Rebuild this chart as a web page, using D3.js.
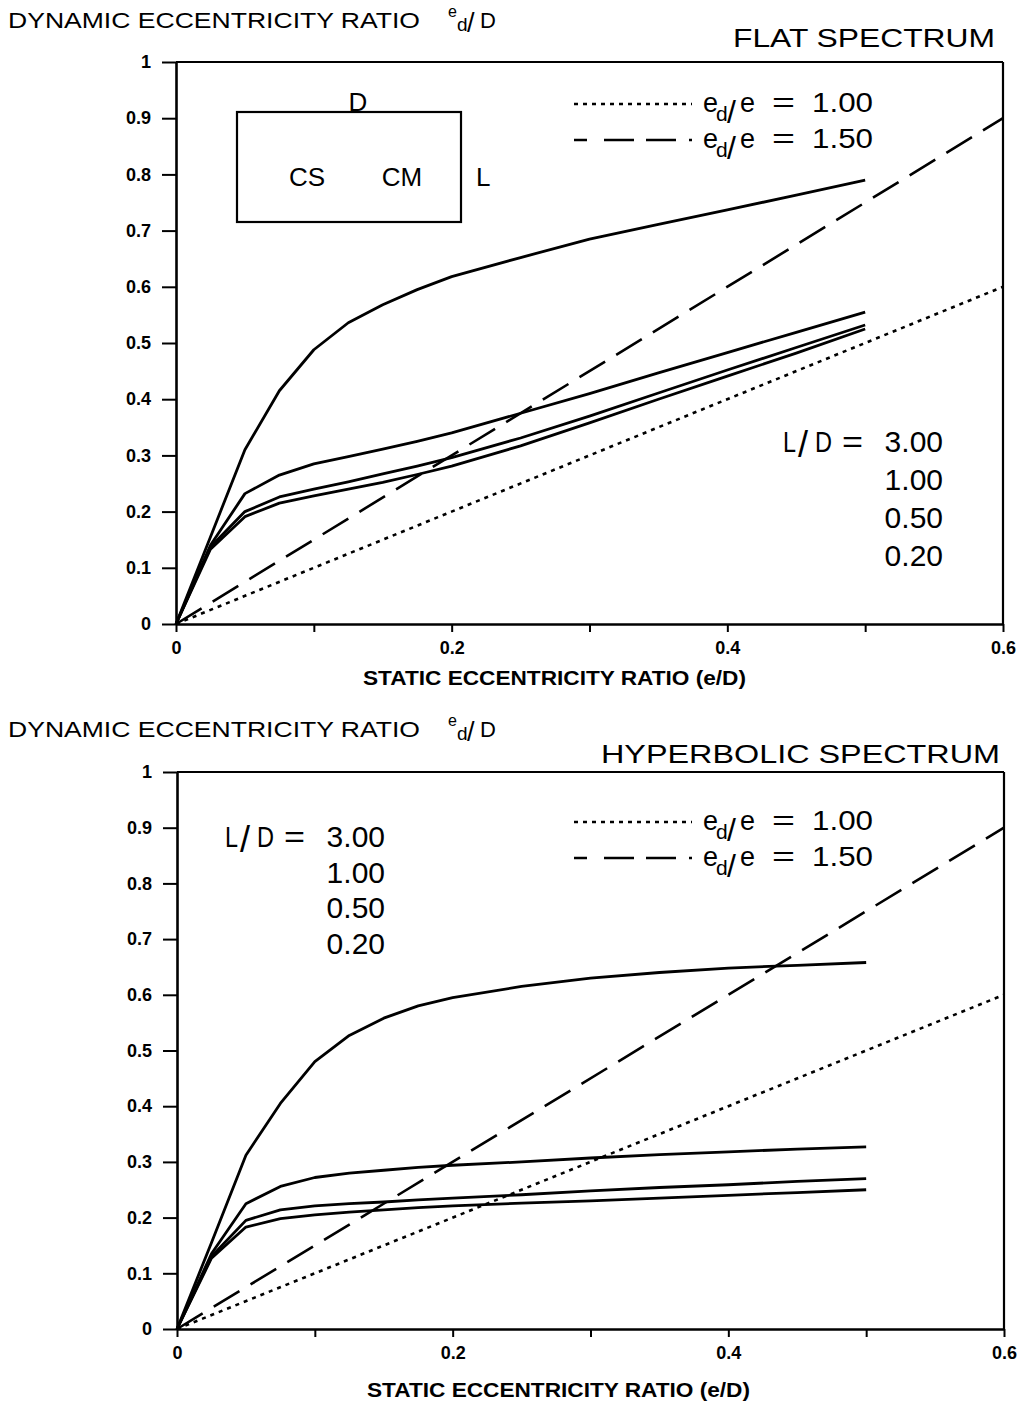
<!DOCTYPE html>
<html>
<head>
<meta charset="utf-8">
<script src="https://cdn.jsdelivr.net/npm/d3@7"></script>
<style>
  body { margin: 0; background: #fff; }
  svg { display: block; }
  text { font-family: "Liberation Sans", Arial, sans-serif; fill: #000; }
</style>
</head>
<body>
<script>
// Static eccentricity ratio e/D at which the response curves were computed
const staticEcc = [0, 0.025, 0.05, 0.075, 0.1, 0.125, 0.15, 0.175, 0.2, 0.25, 0.3, 0.35, 0.4, 0.45, 0.5];

// Flat spectrum: dynamic eccentricity ratio e_d/D for each L/D
const flatLD300 = [0, 0.155, 0.31, 0.415, 0.488, 0.536, 0.568, 0.595, 0.618, 0.652, 0.685, 0.711, 0.737, 0.763, 0.79];
const flatLD100 = [0, 0.14, 0.232, 0.265, 0.285, 0.298, 0.311, 0.325, 0.34, 0.375, 0.41, 0.447, 0.483, 0.519, 0.555];
const flatLD050 = [0, 0.137, 0.20, 0.226, 0.24, 0.253, 0.267, 0.281, 0.296, 0.331, 0.37, 0.411, 0.452, 0.492, 0.532];
const flatLD020 = [0, 0.133, 0.191, 0.215, 0.228, 0.24, 0.252, 0.266, 0.281, 0.317, 0.358, 0.40, 0.441, 0.482, 0.525];

// Hyperbolic spectrum: dynamic eccentricity ratio e_d/D for each L/D
const hypLD300 = [0, 0.155, 0.312, 0.405, 0.48, 0.527, 0.558, 0.58, 0.595, 0.615, 0.63, 0.64, 0.648, 0.653, 0.658];
const hypLD100 = [0, 0.135, 0.225, 0.256, 0.272, 0.28, 0.285, 0.29, 0.294, 0.30, 0.307, 0.313, 0.318, 0.323, 0.327];
const hypLD050 = [0, 0.13, 0.195, 0.214, 0.221, 0.225, 0.228, 0.232, 0.235, 0.241, 0.248, 0.254, 0.259, 0.265, 0.27];
const hypLD020 = [0, 0.127, 0.183, 0.198, 0.205, 0.21, 0.214, 0.218, 0.221, 0.226, 0.23, 0.235, 0.24, 0.245, 0.25];

// Constant-ratio reference lines e_d/e
const refEcc = [0, 0.6];
const refRatio100 = [0, 0.6];
const refRatio150 = [0, 0.9];
const refLabels = ["1.00", "1.50"];

const ldLabels = ["3.00", "1.00", "0.50", "0.20"];

const xTickValues = [0, 0.1, 0.2, 0.3, 0.4, 0.5, 0.6];
const xTickLabels = ["0", "", "0.2", "", "0.4", "", "0.6"];
const yTickValues = [0, 0.1, 0.2, 0.3, 0.4, 0.5, 0.6, 0.7, 0.8, 0.9, 1];
const yTickLabels = ["0", "0.1", "0.2", "0.3", "0.4", "0.5", "0.6", "0.7", "0.8", "0.9", "1"];

const yTitle = "DYNAMIC ECCENTRICITY RATIO";
const xTitle = "STATIC ECCENTRICITY RATIO (e/D)";

const svg = d3.select("body").append("svg")
  .attr("width", 1024).attr("height", 1410);

const panels = [
  {
    spectrum: "FLAT SPECTRUM",
    series: [flatLD300, flatLD100, flatLD050, flatLD020],
    frame: { left: 176, right: 1003, top: 62, bottom: 624 },
    yTitleBase: 28, specX: 733, specW: 262, specBase: 47,
    xTitleX: 363, xTitleBase: 685,
    legendX: 574, legendRows: [104, 140],
    ldX: 783, ldBase: 452, ldStep: 38,
    inset: true
  },
  {
    spectrum: "HYPERBOLIC SPECTRUM",
    series: [hypLD300, hypLD100, hypLD050, hypLD020],
    frame: { left: 177, right: 1004, top: 772, bottom: 1329 },
    yTitleBase: 737, specX: 601, specW: 399, specBase: 763,
    xTitleX: 367, xTitleBase: 1397,
    legendX: 574, legendRows: [822, 858],
    ldX: 225, ldBase: 847, ldStep: 35.5,
    inset: false
  }
];

panels.forEach(p => {
  const f = p.frame;
  const x = d3.scaleLinear().domain([0, 0.6]).range([f.left, f.right]);
  const y = d3.scaleLinear().domain([0, 1]).range([f.bottom, f.top]);
  const g = svg.append("g");

  // Vertical-axis title with the e_d/D fraction
  const yt = g.append("text").attr("y", p.yTitleBase).style("font-size", "22px");
  yt.append("tspan").attr("x", 8).attr("textLength", 412).attr("lengthAdjust", "spacingAndGlyphs")
    .text(yTitle);
  yt.append("tspan").attr("x", 448).attr("y", p.yTitleBase - 11).style("font-size", "16px").text("e");
  yt.append("tspan").attr("x", 457).attr("y", p.yTitleBase + 3).style("font-size", "19px").text("d");
  yt.append("tspan").attr("x", 467).attr("y", p.yTitleBase + 4).style("font-size", "27px").text("/");
  yt.append("tspan").attr("x", 480).attr("y", p.yTitleBase).text("D");

  g.append("text").attr("x", p.specX).attr("y", p.specBase)
    .attr("textLength", p.specW).attr("lengthAdjust", "spacingAndGlyphs")
    .style("font-size", "26px").text(p.spectrum);

  g.append("text").attr("x", p.xTitleX).attr("y", p.xTitleBase)
    .attr("textLength", 383).attr("lengthAdjust", "spacingAndGlyphs")
    .style("font-size", "20px").style("font-weight", "bold").text(xTitle);

  // Axes
  const yAxis = d3.axisLeft(y).tickValues(yTickValues)
    .tickFormat((d, i) => yTickLabels[i]).tickSize(14).tickSizeOuter(0).tickPadding(11);
  const xAxis = d3.axisBottom(x).tickValues(xTickValues)
    .tickFormat((d, i) => xTickLabels[i]).tickSize(8).tickSizeOuter(0).tickPadding(9);

  const ya = g.append("g").attr("transform", `translate(${f.left},0)`).call(yAxis);
  const xa = g.append("g").attr("transform", `translate(0,${f.bottom})`).call(xAxis);
  [ya, xa].forEach(a => {
    a.attr("font-family", "Liberation Sans, Arial, sans-serif").attr("font-size", 18)
      .attr("font-weight", "bold");
    a.select(".domain").attr("stroke", "#000").attr("stroke-width", 2.6);
    a.selectAll(".tick line").attr("stroke", "#000").attr("stroke-width", 2);
    a.selectAll(".tick text").attr("fill", "#000");
  });

  // Frame top and right edges
  g.append("line").attr("x1", x(0)).attr("x2", x(0.6)).attr("y1", y(1)).attr("y2", y(1))
    .attr("stroke", "#000").attr("stroke-width", 2.2);
  g.append("line").attr("x1", x(0.6)).attr("x2", x(0.6)).attr("y1", y(1)).attr("y2", y(0))
    .attr("stroke", "#000").attr("stroke-width", 2.2);

  const line = d3.line().x(d => x(d[0])).y(d => y(d[1])).curve(d3.curveLinear);

  // Reference lines
  g.append("path").datum(d3.zip(refEcc, refRatio100)).attr("d", line)
    .attr("fill", "none").attr("stroke", "#000").attr("stroke-width", 2.6)
    .attr("stroke-dasharray", "4,5");
  g.append("path").datum(d3.zip(refEcc, refRatio150)).attr("d", line)
    .attr("fill", "none").attr("stroke", "#000").attr("stroke-width", 2.6)
    .attr("stroke-dasharray", "30,13");

  // Response curves for each L/D
  p.series.forEach(s => {
    g.append("path").datum(d3.zip(staticEcc, s)).attr("d", line)
      .attr("fill", "none").attr("stroke", "#000").attr("stroke-width", 2.8)
      .attr("stroke-linejoin", "round");
  });

  // Legend for the reference lines
  const dashes = ["4,5", "13,17,30,12,30,13,3,100"];
  p.legendRows.forEach((ly, i) => {
    g.append("line").attr("x1", p.legendX).attr("x2", p.legendX + 118)
      .attr("y1", ly).attr("y2", ly)
      .attr("stroke", "#000").attr("stroke-width", 2.6).attr("stroke-dasharray", dashes[i]);
    const base = ly + 8;
    const t = g.append("text").attr("y", base).style("font-size", "27px");
    t.append("tspan").attr("x", 703).text("e");
    t.append("tspan").attr("x", 716).attr("y", base + 9).style("font-size", "21px").text("d");
    t.append("tspan").attr("x", 727).attr("y", base + 11).style("font-size", "32px").text("/");
    t.append("tspan").attr("x", 740).attr("y", base).text("e");
    t.append("tspan").attr("x", 772).text("=").attr("textLength", 23).attr("lengthAdjust", "spacingAndGlyphs");
    t.append("tspan").attr("x", 812).text(refLabels[i]).attr("textLength", 61).attr("lengthAdjust", "spacingAndGlyphs");
  });

  // L/D labels
  const l0 = g.append("text").attr("y", p.ldBase).style("font-size", "30px");
  l0.append("tspan").attr("x", p.ldX).text("L")
    .attr("textLength", 13).attr("lengthAdjust", "spacingAndGlyphs");
  l0.append("tspan").attr("x", p.ldX + 15).attr("y", p.ldBase + 5).style("font-size", "36px").text("/");
  l0.append("tspan").attr("x", p.ldX + 32).attr("y", p.ldBase).text("D")
    .attr("textLength", 17).attr("lengthAdjust", "spacingAndGlyphs");
  l0.append("tspan").attr("x", p.ldX + 59).text("=")
    .attr("textLength", 21).attr("lengthAdjust", "spacingAndGlyphs");
  ldLabels.forEach((lab, i) => {
    g.append("text").attr("x", p.ldX + 160).attr("y", p.ldBase + i * p.ldStep)
      .attr("text-anchor", "end").style("font-size", "30px").text(lab);
  });

  // Bearing sketch: CS and CM inside a D by L box
  if (p.inset) {
    const ins = g.append("g");
    ins.append("rect").attr("x", 237).attr("y", 112).attr("width", 224).attr("height", 110)
      .attr("fill", "none").attr("stroke", "#000").attr("stroke-width", 2.2);
    ins.append("text").attr("x", 358).attr("y", 111).attr("text-anchor", "middle")
      .style("font-size", "26px").text("D");
    ins.append("text").attr("x", 307).attr("y", 186).attr("text-anchor", "middle")
      .style("font-size", "26px").text("CS");
    ins.append("text").attr("x", 402).attr("y", 186).attr("text-anchor", "middle")
      .style("font-size", "26px").text("CM");
    ins.append("text").attr("x", 476).attr("y", 186)
      .style("font-size", "26px").text("L");
  }
});
</script>
</body>
</html>
